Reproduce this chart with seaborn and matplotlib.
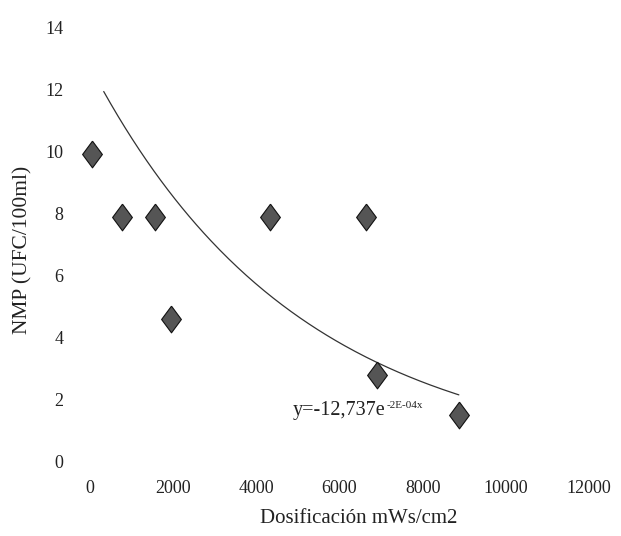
import numpy as np
import pandas as pd
import matplotlib
matplotlib.use("Agg")
import matplotlib.pyplot as plt
import seaborn as sns

# --- data --------------------------------------------------------------------
dose = [60, 770, 1560, 1950, 4330, 6630, 6900, 8870]      # mWs/cm2
nmp = [9.9, 7.9, 7.9, 4.6, 7.9, 7.9, 2.8, 1.5]             # UFC/100ml

# exponential trendline as printed on the chart
fit_a = 12.737
fit_b = -2e-4
fit_x0, fit_x1 = 330, 8870

x_ticks = [0, 2000, 4000, 6000, 8000, 10000, 12000]
y_ticks = [0, 2, 4, 6, 8, 10, 12, 14]

df = pd.DataFrame({"dose": dose, "nmp": nmp})
fit_x = np.linspace(fit_x0, fit_x1, 200)
fit = pd.DataFrame({"dose": fit_x, "nmp": fit_a * np.exp(fit_b * fit_x)})

sns.set_theme(style="white")
plt.rcParams["font.family"] = ["Liberation Serif", "DejaVu Serif"]

ink = "#222222"
diamond = [(0, 1), (0.74, 0), (0, -1), (-0.74, 0), (0, 1)]

fig = plt.figure(figsize=(6.21, 5.36), dpi=100)
ax = fig.add_axes([90 / 621, 1 - 462 / 536, 499 / 621, 435 / 536])

sns.lineplot(data=fit, x="dose", y="nmp", ax=ax, color="#333333", linewidth=0.9)
sns.scatterplot(data=df, x="dose", y="nmp", ax=ax, marker=diamond, s=370,
                color="#555555", edgecolor="#111111", linewidth=0.8,
                zorder=3, clip_on=False)

# trendline equation with a small raised exponent
eq = ax.annotate("y=-12,737e", xy=(4880, 1.5), fontsize=14.5, color=ink)
ax.annotate("-2E-04x", xy=(1, 1), xycoords=eq, xytext=(1, 0),
            textcoords="offset points", fontsize=8, color=ink, va="top")

ax.set_xlim(0, 12000)
ax.set_ylim(0, 14)
ax.set_xticks(x_ticks)
ax.set_yticks(y_ticks)
ax.set_xticklabels([str(t) for t in x_ticks])
ax.set_yticklabels([str(t) for t in y_ticks])
ax.tick_params(axis="x", length=0, pad=13, labelsize=13, colors=ink)
ax.tick_params(axis="y", length=0, pad=19, labelsize=13, colors=ink)
sns.despine(ax=ax, left=True, bottom=True)

ax.set_xlabel("Dosificación mWs/cm2", fontsize=15, color=ink)
ax.set_ylabel("NMP (UFC/100ml)", fontsize=15.5, color=ink)
ax.xaxis.set_label_coords((359 - 90) / 499, -(509 - 462) / 435)
ax.yaxis.set_label_coords(-(90 - 32) / 499, (462 - 250) / 435)

fig.savefig("out.png", dpi=100)
